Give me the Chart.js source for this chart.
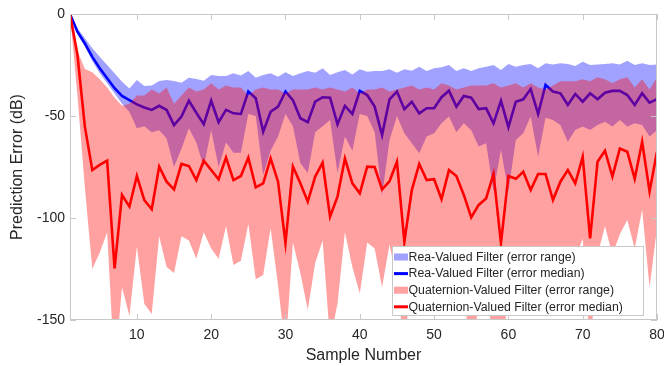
<!DOCTYPE html>
<html>
<head>
<meta charset="utf-8">
<script src="https://cdn.jsdelivr.net/npm/chart.js@4.4.0/dist/chart.umd.min.js"></script>
<style>
  html, body { margin: 0; padding: 0; background: #fff; }
  #wrap { width: 664px; height: 366px; position: relative; }
</style>
</head>
<body>
<div id="wrap"><canvas id="chart"></canvas></div>
<script>
// sample index on the x axis
const samples = [1,2,3,4,5,6,7,8,9,10,11,12,13,14,15,16,17,18,19,20,
  21,22,23,24,25,26,27,28,29,30,31,32,33,34,35,36,37,38,39,40,
  41,42,43,44,45,46,47,48,49,50,51,52,53,54,55,56,57,58,59,60,
  61,62,63,64,65,66,67,68,69,70,71,72,73,74,75,76,77,78,79,80];
const xTicks = [10, 20, 30, 40, 50, 60, 70, 80];
const yTicks = [-150, -100, -50, 0];

// real-valued filter (dB)
const realUpper = [0,-7,-11.9,-16.8,-20.9,-25,-29,-33.2,-36.5,-32.4,-35.3,-35,-32.8,-32.4,-32.8,-33.7,-31.2,-31.9,-32.7,-29.9,
  -30.4,-30.4,-29,-30.2,-27.9,-31.2,-29.9,-29,-30.7,-28.6,-30.4,-29,-27.9,-28.8,-26.6,-29.9,-28.6,-27.5,-29.6,-27.1,
  -28.3,-27.9,-27.9,-27.1,-28.8,-27.1,-27.8,-25.8,-27.9,-26.6,-26.1,-25,-27.9,-26.6,-27.9,-26.6,-25.8,-25,-27.5,-24.5,
  -25.8,-25,-24.5,-26.6,-24.2,-24.8,-24.2,-24.5,-25.5,-23.4,-25,-24.8,-24.5,-24.2,-24.8,-22.9,-25,-24.2,-25,-24.8];
const realLower = [0,-10,-16,-23,-29,-34,-39,-44,-48,-56,-55,-58,-57,-61,-75,-66,-56,-63,-75,-57,
  -75,-63,-68,-68,-49,-50,-79,-67,-60,-49,-55,-73,-78,-58,-55,-52,-78,-60,-67,-49,
  -50,-58,-89,-62,-50,-58.5,-63.4,-68.3,-60,-58.5,-53.6,-50.3,-58,-53.6,-57,-65,-63.4,-87,-66.7,-87,
  -61.8,-58.5,-50.3,-70,-50.8,-52,-54.4,-62.6,-56.9,-55.2,-56.9,-54.4,-52.8,-55.2,-52,-55.2,-53.6,-54.4,-60,-57];
const realMedian = [0,-8.7,-14.4,-21,-26.6,-31.5,-36.4,-40.2,-42.2,-44.3,-45.8,-47,-45,-47,-54.5,-50.3,-42.5,-48.4,-54,-42.5,
  -53,-47,-48.7,-49,-38,-41.3,-57.7,-47.9,-45.4,-38,-42.2,-51.1,-53,-43,-40.8,-41,-54,-45,-49,-37.7,
  -39.7,-45.4,-59.3,-41.8,-38,-46.7,-43,-48.7,-46.2,-46.2,-40.8,-37.6,-45.4,-40.2,-41,-46.6,-46.2,-53.6,-42.5,-55.5,
  -43,-41.8,-36.8,-49,-34.8,-38,-38.9,-44.6,-39.2,-43,-38.9,-41.8,-38.6,-37.7,-37.7,-39.7,-44.6,-38.9,-43.5,-41.7];

// quaternion-valued filter (dB)
const quatUpper = [0,-18,-27,-28.5,-32,-36,-41,-45,-44,-40,-40,-37,-39,-36,-44,-40,-36,-38,-37,-34,
  -37,-35,-36,-36,-40,-37,-36,-37,-37,-39,-37,-37,-37,-36,-37,-36,-37,-38,-36,-39,
  -37,-37,-36,-38,-37,-36,-35,-37,-36,-37,-34,-35,-37,-36,-35,-35,-35,-34,-36,-35,
  -34,-36,-34,-36,-37,-35,-33,-33,-33,-32,-33,-31,-32,-34,-32,-31,-36,-32,-37,-31];
const quatLower = [0,-40,-85,-125,-117,-107,-175,-134,-148,-114,-142,-147,-109,-124,-127,-109,-111,-120,-107,-115,
  -120,-104,-123,-121,-103,-130,-128,-105,-133,-165,-112,-127,-145,-122,-111,-160,-142,-107,-124,-137,
  -112,-115,-134,-113,-130,-165,-125,-130,-120,-135,-125,-130,-140,-125,-190,-135,-130,-165,-175,-135,
  -130,-140,-125,-130,-120,-135,-125,-130,-120,-110,-165,-118,-104,-118,-108,-101,-115,-96,-134,-105];
const quatMedian = [0,-20,-55.2,-76.5,-74,-71.9,-124.7,-88.7,-94.4,-79.4,-91.2,-95.7,-74.8,-82.2,-86,-73.5,-74.5,-81.4,-71.9,-76.5,
  -81,-70.4,-81.4,-79.4,-70.4,-85,-83,-70.8,-82.2,-112.4,-74.8,-83,-92,-79.7,-72.9,-99.4,-89.5,-70.8,-83,-87.9,
  -74.8,-75,-86,-82,-72.4,-111.6,-86.3,-73.5,-81.4,-81,-90.8,-76.5,-79.4,-88.7,-99.7,-93.6,-90.4,-78.4,-112.4,-79.4,
  -80.8,-77.3,-86.3,-78.4,-78.4,-91.2,-82.2,-76.5,-83,-70,-110,-72.4,-67,-79.7,-65.9,-67.5,-80.8,-62.6,-87,-67.5];

const toPoints = vals => vals.map((v, i) => ({ x: samples[i], y: v }));
const none = 'rgba(0,0,0,0)';
const ink = '#262626';
const frame = '#c8c8c8';

Chart.defaults.font.family = '"Liberation Sans", Arial, Helvetica, sans-serif';
Chart.defaults.color = ink;

// axes box, inward ticks and the legend inside the plot
const boxAndLegend = {
  id: 'boxAndLegend',
  afterDraw(chart) {
    const { ctx, chartArea: a, scales: { x, y } } = chart;
    ctx.save();
    ctx.strokeStyle = frame;
    ctx.lineWidth = 1;
    ctx.strokeRect(Math.round(a.left) + 0.5, Math.round(a.top) + 0.5,
      Math.round(a.right - a.left) - 1, Math.round(a.bottom - a.top) - 1);
    ctx.beginPath();
    xTicks.forEach(v => {
      const px = Math.round(x.getPixelForValue(v)) + 0.5;
      ctx.moveTo(px, a.bottom); ctx.lineTo(px, a.bottom - 6);
      ctx.moveTo(px, a.top); ctx.lineTo(px, a.top + 6);
    });
    yTicks.forEach(v => {
      const py = Math.round(y.getPixelForValue(v)) + 0.5;
      ctx.moveTo(a.left, py); ctx.lineTo(a.left + 6, py);
      ctx.moveTo(a.right, py); ctx.lineTo(a.right - 6, py);
    });
    ctx.stroke();

    // legend rows: range patch, then median line, real filter first
    const items = chart.data.datasets.filter(d => d.label).reverse();
    const bx = Math.round(a.right - 265) + 0.5;
    const by = Math.round(a.bottom - 74) + 0.5;
    const bw = 251, bh = 69, rowH = 16.6;
    ctx.fillStyle = '#fff';
    ctx.fillRect(bx, by, bw, bh);
    ctx.strokeStyle = frame;
    ctx.strokeRect(bx, by, bw, bh);
    ctx.font = '12.3px "Liberation Sans", Arial, sans-serif';
    ctx.textBaseline = 'middle';
    items.forEach((d, i) => {
      const cy = by + 10.5 + i * rowH;
      if (d.fill !== false) {
        ctx.fillStyle = d.backgroundColor;
        ctx.fillRect(bx + 1.5, cy - 3.5, 14, 7);
      } else {
        ctx.strokeStyle = d.borderColor;
        ctx.lineWidth = 3;
        ctx.beginPath();
        ctx.moveTo(bx + 1.5, cy); ctx.lineTo(bx + 15.5, cy);
        ctx.stroke();
      }
      ctx.fillStyle = ink;
      ctx.fillText(d.label, bx + 16, cy + 0.5);
    });
    ctx.restore();
  }
};

new Chart(document.getElementById('chart'), {
  type: 'line',
  data: {
    datasets: [
      { label: 'Quaternion-Valued Filter (error median)', data: toPoints(quatMedian), fill: false,
        borderColor: '#ff0000', borderWidth: 2.6, pointRadius: 0, order: 1 },
      { label: 'Quaternion-Valued Filter (error range)', data: toPoints(quatUpper), fill: 2,
        backgroundColor: 'rgba(255,0,0,0.37)', borderColor: none, borderWidth: 0, pointRadius: 0, order: 2 },
      { data: toPoints(quatLower), fill: false, borderColor: none, borderWidth: 0, pointRadius: 0, order: 2 },
      { label: 'Rea-Valued Filter (error median)', data: toPoints(realMedian), fill: false,
        borderColor: '#0000ff', borderWidth: 2.6, pointRadius: 0, order: 3 },
      { label: 'Rea-Valued Filter (error range)', data: toPoints(realUpper), fill: 5,
        backgroundColor: 'rgba(0,0,255,0.37)', borderColor: none, borderWidth: 0, pointRadius: 0, order: 4 },
      { data: toPoints(realLower), fill: false, borderColor: none, borderWidth: 0, pointRadius: 0, order: 4 }
    ]
  },
  options: {
    responsive: true,
    maintainAspectRatio: false,
    animation: false,
    events: [],
    layout: { padding: { left: 4, right: 7, top: 14, bottom: 0 } },
    plugins: {
      legend: { display: false },
      tooltip: { enabled: false },
      filler: { propagate: false, drawTime: 'beforeDatasetDraw' }
    },
    elements: { line: { tension: 0 } },
    scales: {
      x: {
        type: 'linear', min: 1, max: 80,
        afterBuildTicks: s => { s.ticks = xTicks.map(v => ({ value: v })); },
        afterFit: s => { s.height = 46; s.paddingLeft = 0; s.paddingRight = 0; },
        grid: { display: false, drawTicks: false },
        border: { display: false },
        ticks: { padding: 7, font: { size: 14 }, color: ink, maxRotation: 0 },
        title: { display: true, text: 'Sample Number', font: { size: 16 }, color: ink, padding: { top: 2, bottom: 1 } }
      },
      y: {
        min: -150, max: 0,
        afterBuildTicks: s => { s.ticks = yTicks.map(v => ({ value: v })); },
        afterFit: s => { s.width = 66; },
        grid: { display: false, drawTicks: false },
        border: { display: false },
        ticks: { padding: 5, font: { size: 14 }, color: ink },
        title: { display: true, text: 'Prediction Error (dB)', font: { size: 16 }, color: ink, padding: { top: 4, bottom: 4 } }
      }
    }
  },
  plugins: [boxAndLegend]
});
</script>
</body>
</html>
